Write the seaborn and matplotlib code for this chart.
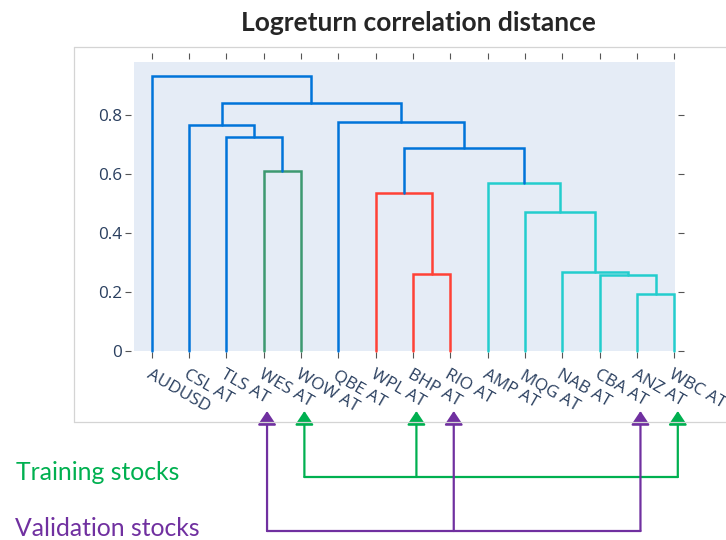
import matplotlib
matplotlib.use("Agg")
import matplotlib.pyplot as plt
import seaborn as sns
import pandas as pd
from matplotlib.lines import Line2D

# ---------------- data ----------------
leaves = ["AUDUSD", "CSL AT", "TLS AT", "WES AT", "WOW AT", "QBE AT", "WPL AT",
          "BHP AT", "RIO AT", "AMP AT", "MQG AT", "NAB AT", "CBA AT", "ANZ AT", "WBC AT"]

# linkage: merge i joins merge_left[i] and merge_right[i] at merge_height[i]
merge_left = ["ANZ AT", "CBA AT", "BHP AT", "NAB AT", "MQG AT", "WPL AT", "AMP AT",
              "WES AT", "m5", "TLS AT", "CSL AT", "QBE AT", "m10", "AUDUSD"]
merge_right = ["WBC AT", "m0", "RIO AT", "m1", "m3", "m2", "m4",
               "WOW AT", "m6", "m7", "m9", "m8", "m11", "m12"]
merge_height = [0.192, 0.257, 0.260, 0.269, 0.471, 0.535, 0.568,
                0.610, 0.687, 0.727, 0.766, 0.777, 0.842, 0.932]
merge_group = ["c", "c", "r", "c", "c", "r", "c", "g", "b", "b", "b", "b", "b", "b"]

y_ticks = [0, 0.2, 0.4, 0.6, 0.8]
y_tick_labels = ["0", "0.2", "0.4", "0.6", "0.8"]

training_stocks = ["WOW AT", "BHP AT", "WBC AT"]
validation_stocks = ["WES AT", "RIO AT", "ANZ AT"]

title = "Logreturn correlation distance"
training_label = "Training stocks"
validation_label = "Validation stocks"

# ---------------- styles ----------------
palette = {"b": "#0074D9", "c": "#23CDCD", "g": "#3D9970", "r": "#FF4136"}
W, H = 726, 540
GREEN = "#00B050"
PURPLE = "#7030A0"
FONT_COLOR = "#2a3f5f"
TICK_FONT = ["Open Sans", "DejaVu Sans"]
NOTE_FONT = ["Lato", "DejaVu Sans"]

sns.set_theme(style="white")
plt.rcParams["font.family"] = TICK_FONT

# ---------------- build dendrogram paths ----------------
leaf_x = {name: 5 + 10 * i for i, name in enumerate(leaves)}
node_x = dict(leaf_x)
node_y = {name: 0.0 for name in leaves}
rows = []
for i, (l, r, h, g) in enumerate(zip(merge_left, merge_right, merge_height, merge_group)):
    xl, xr = node_x[l], node_x[r]
    pts = [(xl, node_y[l]), (xl, h), (xr, h), (xr, node_y[r])]
    for k, (px, py) in enumerate(pts):
        rows.append({"link": i, "order": k, "x": px, "y": py, "group": g})
    node_x[f"m{i}"] = (xl + xr) / 2
    node_y[f"m{i}"] = h
df = pd.DataFrame(rows)

fig = plt.figure(figsize=(W / 100, H / 100), dpi=100)
ax = fig.add_axes([134 / W, 1 - 351 / H, (675 - 134) / W, (351 - 62) / H])
ax.set_facecolor("#E5ECF6")

sns.lineplot(data=df, x="x", y="y", units="link", estimator=None, sort=False,
             hue="group", palette=palette, legend=False, ax=ax,
             linewidth=1.8, clip_on=False, solid_joinstyle="miter")

ax.set_xlim(0.27, 145.15)
ax.set_ylim(0, 0.98)
ax.set_xlabel("")
ax.set_ylabel("")
for s in ax.spines.values():
    s.set_visible(False)
ax.spines["top"].set_position(("outward", 2))
ax.spines["right"].set_position(("outward", 2))
ax.spines["left"].set_position(("outward", 2))
ax.spines["bottom"].set_position(("outward", 1))

ax.set_xticks([leaf_x[n] for n in leaves])
ax.set_xticklabels(leaves, rotation=-30, ha="left", va="top",
                   rotation_mode="anchor", fontsize=12.3, color=FONT_COLOR,
                   family=TICK_FONT)
ax.set_yticks(y_ticks)
ax.set_yticklabels(y_tick_labels, fontsize=12.3, color=FONT_COLOR, family=TICK_FONT)
ax.tick_params(axis="both", which="both", direction="out", length=4.5, width=0.8,
               color="#555555", top=True, right=True, bottom=True, left=True,
               labeltop=False, labelright=False)
ax.tick_params(axis="x", pad=6)
ax.tick_params(axis="y", pad=2)
ax.grid(False)

# ---------------- frame of screenshot ----------------
def fline(x0, y0, x1, y1, **kw):
    fig.add_artist(Line2D([x0 / W, x1 / W], [1 - y0 / H, 1 - y1 / H],
                          transform=fig.transFigure, **kw))

frame_kw = dict(color="#d4d4d4", linewidth=0.9)
fline(74, 46.7, 726, 46.7, **frame_kw)
fline(74, 46.7, 74, 421.7, **frame_kw)
fline(74, 421.7, 726, 421.7, **frame_kw)

fig.text(418 / W, 1 - 23 / H, title, ha="center", va="center",
         fontsize=19, fontweight="bold", color="#262626", family=NOTE_FONT)

# ---------------- annotation arrows ----------------
ARROW_DX = 0.9
TIP_Y = 411


def bracket(stocks, line_y, color):
    xs = [leaf_x[s] + ARROW_DX for s in stocks]
    ax.annotate("", xy=(min(xs), 1 - line_y / H), xycoords=("data", "figure fraction"),
                xytext=(max(xs), 1 - line_y / H), textcoords=("data", "figure fraction"),
                arrowprops=dict(arrowstyle="-", color=color, lw=1.6,
                                shrinkA=0, shrinkB=0), annotation_clip=False)
    for x in xs:
        ax.annotate("", xy=(x, 1 - TIP_Y / H), xycoords=("data", "figure fraction"),
                    xytext=(x, 1 - line_y / H), textcoords=("data", "figure fraction"),
                    arrowprops=dict(arrowstyle="-|>,head_length=0.42,head_width=0.28",
                                    mutation_scale=20, color=color, lw=1.6,
                                    shrinkA=0, shrinkB=0), annotation_clip=False)


bracket(training_stocks, 477, GREEN)
bracket(validation_stocks, 531, PURPLE)

fig.text(16 / W, 1 - 473 / H, training_label, ha="left", va="center",
         fontsize=17.8, color=GREEN, family=NOTE_FONT)
fig.text(15 / W, 1 - 528 / H, validation_label, ha="left", va="center",
         fontsize=17.8, color=PURPLE, family=NOTE_FONT)

fig.savefig("out.png", dpi=100, facecolor="white")
